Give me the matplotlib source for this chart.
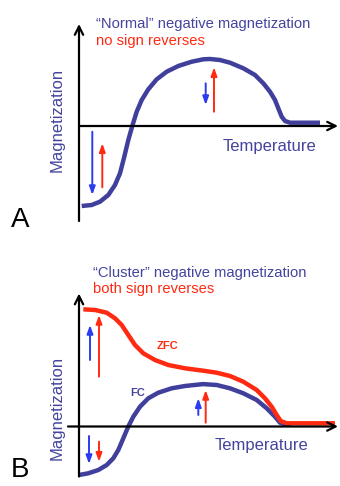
import matplotlib.pyplot as plt

plt.rcParams['font.family'] = ['Liberation Sans', 'DejaVu Sans']

# panel A: "normal" negative magnetization (single FC curve)
a_temp = [2.7, 12.7, 21, 29.3, 36, 41, 45.3, 49.3, 53.3, 57.7, 62.7, 69.3, 77.7, 87.7,
          99.3, 112.7, 124.3, 131, 141, 151, 164.3, 176, 184.3, 191, 196, 199.3, 202.7,
          206, 211, 241]
a_mag = [-80, -79, -75.7, -69, -59, -47.3, -30.7, -14, 0, 14.3, 26, 36.7, 46.7, 54.3,
         60, 64.3, 66.7, 67, 66, 63.3, 57.7, 51, 42.7, 34.3, 26, 17.7, 9.3,
         5, 3.3, 3.3]

# panel B: "cluster" negative magnetization, FC and ZFC
fc_temp = [0, 9.3, 19.3, 27.7, 34.3, 39.3, 44.3, 49.3, 54.3, 61, 69.3, 79.3, 92.7, 106,
           124, 137.7, 151, 164.3, 177.7, 187.7, 196, 201, 206, 212]
fc_mag = [-48.5, -46.8, -43.5, -38.5, -31.8, -23.5, -11.8, 0, 9.8, 19.8, 28.2, 33.8, 38.2,
          40.5, 42.4, 41.5, 38.2, 33.2, 26.5, 18.2, 9.8, 3.8, 2.2, 2]
zfc_temp = [4.3, 16, 27.7, 36, 42.7, 49.3, 56, 64.3, 76, 89.3, 106, 124.3, 137.7, 151,
            164.3, 177.7, 186, 192.7, 197.7, 201.7, 207.7, 256]
zfc_mag = [117.2, 116.5, 113.8, 108.2, 101.5, 91.5, 81.5, 73.2, 66.5, 61.5, 58.2, 55.8,
           53.8, 50.5, 44.8, 36.5, 28.2, 19.8, 11.5, 5.5, 3.2, 3.2]

# moment arrows: (temperature, tail, head)
a_blue = [(13.3, -5.7, -69), (126.7, 42.7, 21)]
a_red = [(23.3, -61.3, -17.3), (135, 14.3, 58.7)]
b_blue = [(11, 66.5, 101.5), (10, -9.5, -37.5), (119.3, 11.5, 28.2)]
b_red = [(20, 49.8, 111.5), (20, -15.2, -35.2), (126.7, 3.8, 36.5)]

CURVE_BLUE = '#40409c'
ARROW_BLUE = '#2b3cf0'
RED = '#ff2a12'
TXT_BLUE = '#44449e'


def axis_arrow(ax, x0, y0, x1, y1):
    ax.annotate('', xy=(x1, y1), xytext=(x0, y0),
                arrowprops=dict(arrowstyle='->,head_length=0.6,head_width=0.3',
                                lw=1.6, color='black', shrinkA=0, shrinkB=0))


def moment(ax, x, y0, y1, color):
    ax.annotate('', xy=(x, y1), xytext=(x, y0),
                arrowprops=dict(arrowstyle='-|>,head_length=0.5,head_width=0.18',
                                lw=1.4, color=color, shrinkA=0, shrinkB=0,
                                mutation_scale=10))


def curve(ax, t, m, color):
    ax.plot(t, m, color=color, lw=3.2, solid_capstyle='butt', solid_joinstyle='round')


fig = plt.figure(figsize=(3.4, 4.86), dpi=100)

# one pixel per data unit, origin at the axis crossing
axA = fig.add_axes([0, 0.5, 1, 0.5])
axA.set_xlim(-79, 261)
axA.set_ylim(-117, 126)
axB = fig.add_axes([0, 0, 1, 0.5])
axB.set_xlim(-79, 261)
axB.set_ylim(-59.5, 183.5)
for ax in (axA, axB):
    ax.axis('off')

# panel A
axis_arrow(axA, 0, -95, 0, 102)
axis_arrow(axA, 0, 0, 259, 0)
curve(axA, a_temp, a_mag, CURVE_BLUE)
for x, y0, y1 in a_blue:
    moment(axA, x, y0, y1, ARROW_BLUE)
for x, y0, y1 in a_red:
    moment(axA, x, y0, y1, RED)
axA.text(17, 102, '\u201cNormal\u201d negative magnetization', color=TXT_BLUE,
         fontsize=10.6, va='center', ha='left')
axA.text(17, 85, 'no sign reverses', color=RED, fontsize=10.6, va='center', ha='left')
axA.text(-22, 6, 'Magnetization', color=TXT_BLUE, fontsize=12, rotation=90,
         va='center', ha='center')
axA.text(144, -21, 'Temperature', color=TXT_BLUE, fontsize=12, va='center', ha='left')
axA.text(-68, -94, 'A', fontsize=20, va='center', ha='left')

# panel B
axis_arrow(axB, 0, -50, 0, 133)
axis_arrow(axB, -11, 0, 259, 0)
curve(axB, fc_temp, fc_mag, CURVE_BLUE)
curve(axB, zfc_temp, zfc_mag, RED)
for x, y0, y1 in b_blue:
    moment(axB, x, y0, y1, ARROW_BLUE)
for x, y0, y1 in b_red:
    moment(axB, x, y0, y1, RED)
axB.text(14, 153, '\u201cCluster\u201d negative magnetization', color=TXT_BLUE,
         fontsize=10.6, va='center', ha='left')
axB.text(14, 137, 'both sign reverses', color=RED, fontsize=10.6, va='center', ha='left')
axB.text(88, 80.5, 'ZFC', color=RED, fontsize=8, fontweight='bold', va='center', ha='center')
axB.text(59, 33, 'FC', color=TXT_BLUE, fontsize=8, fontweight='bold', va='center', ha='center')
axB.text(-22, 19, 'Magnetization', color=TXT_BLUE, fontsize=12, rotation=90,
         va='center', ha='center')
axB.text(136, -18.5, 'Temperature', color=TXT_BLUE, fontsize=12, va='center', ha='left')
axB.text(-68, -43.5, 'B', fontsize=20, va='center', ha='left')

fig.savefig('out.png', dpi=100)
plt.close()
